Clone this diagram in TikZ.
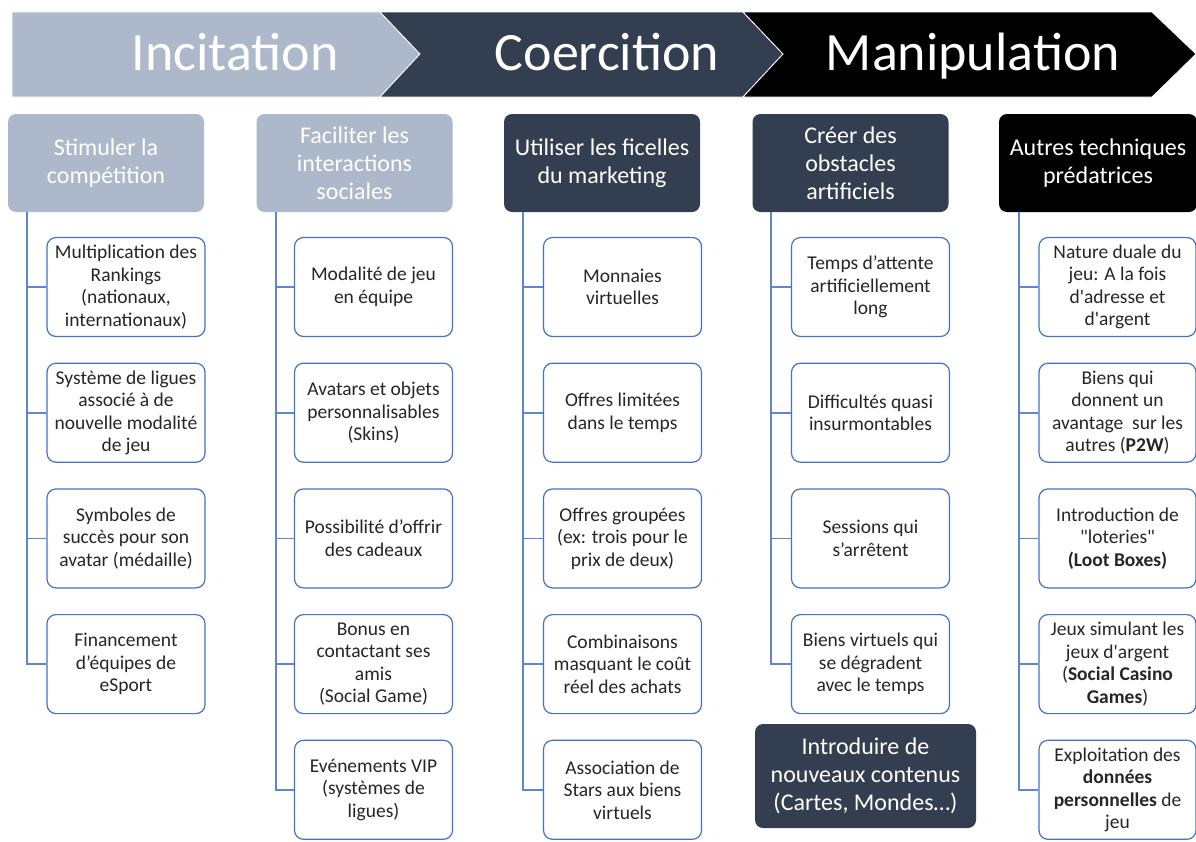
\documentclass[tikz,border=0pt]{standalone}
\usepackage{fontspec}
\setmainfont{Carlito}[Ligatures=TeXOff]
\usetikzlibrary{positioning}

\definecolor{gris}{HTML}{ADB9CA}
\definecolor{marine}{HTML}{333F50}
\definecolor{bleu}{HTML}{4472C4}
\definecolor{texte}{HTML}{262626}

\begin{document}
\begin{tikzpicture}[x=1pt, y=-1pt]

% Set the page
\useasboundingbox[fill=white] (0,0) rectangle (1196,841);

% Define styles for the banner, the titles and the leafs
\tikzstyle{etape}=[font=\fontsize{54}{60}\selectfont, text=white, anchor=base]
\tikzstyle{titre}=[rectangle, rounded corners=8pt, minimum width=196pt, minimum height=98pt, inner sep=1pt, text=white, align=center, font=\fontsize{24}{28}\selectfont]
\tikzstyle{levier}=[rectangle, rounded corners=9pt, draw=bleu, line width=1.2pt, fill=white, minimum width=158pt, minimum height=99pt, inner sep=1pt, align=center, text=texte, font=\fontsize{19.5}{22.5}\selectfont]
\tikzstyle{branche}=[draw=bleu!85, line width=1.8pt]

% Bandeau en fleches
\fill[gris, draw=white, line width=0.8pt] (12,12) -- (380,12) -- (420,54) -- (380,97) -- (12,97) -- cycle;
\fill[marine, draw=white, line width=0.8pt] (380,12) -- (743,12) -- (783,54) -- (743,97) -- (380,97) -- (420,54) -- cycle;
\fill[black, draw=white, line width=0.8pt] (743,12) -- (1152,12) -- (1196,54) -- (1152,97) -- (743,97) -- (783,54) -- cycle;
\node[etape] (incitation) at (235,70) {Incitation};
\node[etape] (coercition) at (607,70) {Coercition};
\node[etape] (manipulation) at (973,70) {Manipulation};

% Titres des colonnes
\node[titre, fill=gris] (t1) at (106,163) {Stimuler la\\compétition};
\node[titre, fill=gris] (t2) at (354.5,163) {Faciliter les\\interactions\\sociales};
\node[titre, fill=marine] (t3) at (602,163) {Utiliser les ficelles\\du marketing};
\node[titre, fill=marine] (t4) at (850.5,163) {Créer des\\obstacles\\artificiels};
\node[titre, fill=black, minimum width=198pt] (t5) at (1098,163) {Autres techniques\\prédatrices};

% Colonne 1
\node[levier] (c11) at (126,287) {Multiplication des\\Rankings\\(nationaux,\\internationaux)};
\node[levier, below=25.5pt of c11] (c12) {Système de ligues\\associé à de\\nouvelle modalité\\de jeu};
\node[levier, below=25.5pt of c12] (c13) {Symboles de\\succès pour son\\avatar (médaille)};
\node[levier, below=25.5pt of c13] (c14) {Financement\\d’équipes de\\eSport};

% Colonne 2
\node[levier] (c21) at (373.5,287) {Modalité de jeu\\en équipe};
\node[levier, below=25.5pt of c21] (c22) {Avatars et objets\\personnalisables\\(Skins)};
\node[levier, below=25.5pt of c22] (c23) {Possibilité d’offrir\\des cadeaux};
\node[levier, below=25.5pt of c23] (c24) {Bonus en\\contactant ses\\amis\\(Social Game)};
\node[levier, below=25.5pt of c24] (c25) {Evénements VIP\\(systèmes de\\ligues)};

% Colonne 3
\node[levier] (c31) at (622.5,287) {Monnaies\\virtuelles};
\node[levier, below=25.5pt of c31] (c32) {Offres limitées\\dans le temps};
\node[levier, below=25.5pt of c32] (c33) {Offres groupées\\(ex: trois pour le\\prix de deux)};
\node[levier, below=25.5pt of c33] (c34) {Combinaisons\\masquant le coût\\réel des achats};
\node[levier, below=25.5pt of c34] (c35) {Association de\\Stars aux biens\\virtuels};

% Colonne 4
\node[levier] (c41) at (870.5,287) {Temps d’attente\\artificiellement\\long};
\node[levier, below=25.5pt of c41] (c42) {Difficultés quasi\\insurmontables};
\node[levier, below=25.5pt of c42] (c43) {Sessions qui\\s’arrêtent};
\node[levier, below=25.5pt of c43] (c44) {Biens virtuels qui\\se dégradent\\avec le temps};
\node[titre, fill=marine, minimum width=221pt, minimum height=104pt] (contenus) at (865.5,776) {Introduire de\\nouveaux contenus\\(Cartes, Mondes…)};

% Colonne 5
\node[levier, minimum width=157pt] (c51) at (1117.5,287) {Nature duale du\\jeu: A la fois\\d'adresse et\\d'argent};
\node[levier, minimum width=157pt, below=25.5pt of c51] (c52) {Biens qui\\donnent un\\avantage~ sur les\\autres (\textbf{P2W})};
\node[levier, minimum width=157pt, below=25.5pt of c52] (c53) {Introduction de\\"loteries"\\\textbf{(Loot Boxes)}};
\node[levier, minimum width=157pt, below=25.5pt of c53] (c54) {Jeux simulant les\\jeux d'argent\\(\textbf{Social Casino}\\\textbf{Games})};
\node[levier, minimum width=157pt, below=25.5pt of c54] (c55) {Exploitation des\\\textbf{données}\\\textbf{personnelles} de\\jeu};

% Branches
\coordinate (s1) at (27,212);
\coordinate (s2) at (276,212);
\coordinate (s3) at (523,212);
\coordinate (s4) at (771,212);
\coordinate (s5) at (1019,212);
\draw[branche] (s1) |- (c14.west) (s1 |- c11.west) -- (c11.west) (s1 |- c12.west) -- (c12.west) (s1 |- c13.west) -- (c13.west);
\draw[branche] (s2) |- (c25.west) (s2 |- c21.west) -- (c21.west) (s2 |- c22.west) -- (c22.west) (s2 |- c23.west) -- (c23.west) (s2 |- c24.west) -- (c24.west);
\draw[branche] (s3) |- (c35.west) (s3 |- c31.west) -- (c31.west) (s3 |- c32.west) -- (c32.west) (s3 |- c33.west) -- (c33.west) (s3 |- c34.west) -- (c34.west);
\draw[branche] (s4) |- (c44.west) (s4 |- c41.west) -- (c41.west) (s4 |- c42.west) -- (c42.west) (s4 |- c43.west) -- (c43.west);
\draw[branche] (s5) |- (c55.west) (s5 |- c51.west) -- (c51.west) (s5 |- c52.west) -- (c52.west) (s5 |- c53.west) -- (c53.west) (s5 |- c54.west) -- (c54.west);

\end{tikzpicture}
\end{document}
